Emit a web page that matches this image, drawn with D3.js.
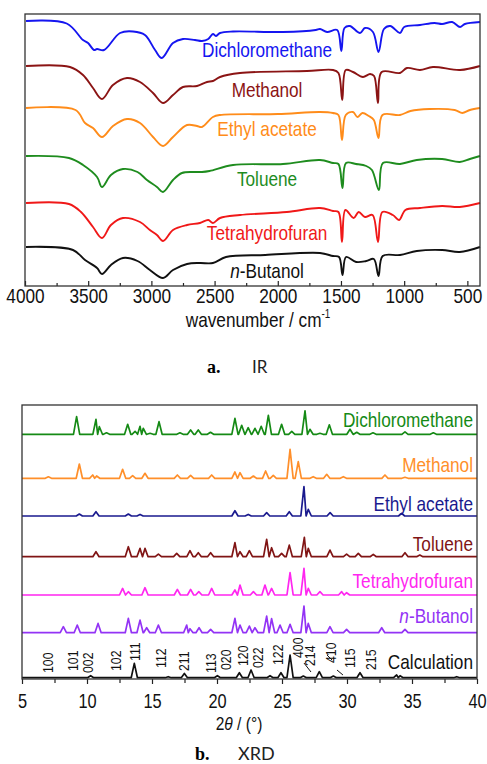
<!DOCTYPE html>
<html>
<head>
<meta charset="utf-8">
<script src="https://cdn.jsdelivr.net/npm/d3@7"></script>
<style>
  body { margin: 0; background: #fff; }
  svg { display: block; }
  text { font-family: "Liberation Sans", Arial, sans-serif; }
</style>
</head>
<body>
<div id="chart"></div>
<script>
// ---- IR data: [wavenumber cm-1, relative transmittance] (0 = flat baseline of each trace)
const irNames = ["Dichloromethane", "Methanol", "Ethyl acetate", "Toluene", "Tetrahydrofuran", "n-Butanol"];
const irColors = ["#1515f0", "#8b1414", "#ff8c1a", "#1e8c1e", "#f01818", "#111111"];
const irOffsets = [265, 220, 178, 130, 83, 39];
const irTicks = [4000, 3500, 3000, 2500, 2000, 1500, 1000, 500];
const irMinor = [3750, 3250, 2750, 2250, 1750, 1250, 750];

const irDCM = [[3992,0],[3670,-2.5],[3541,-19],[3501,-22],[3454,-29],[3430,-28],[3375,-29],[3248,-12],[3145,-10.5],[3051,-14],[2971,-29],[2918,-37],[2829,-22],[2750,-18],[2655,-19],[2600,-20],[2550,-18],[2513,-13],[2490,-15],[2457,-12],[2354,-10.5],[1959,-11],[1700,-9],[1666,-8],[1610,-11],[1530,-9],[1497,-30],[1472,-7],[1430,-5],[1349,-12],[1310,-7],[1247,-11],[1203,-31],[1160,-8],[1110,-5],[1033,-12],[1000,-6],[875,-4],[760,-2],[700,-3],[620,-1],[558,-6],[520,-3],[400,-1]];
const irMeOH = [[3992,0],[3644,-1],[3541,-9],[3462,-22],[3391,-33],[3304,-19],[3193,-12],[3090,-16],[2987,-27],[2908,-37],[2829,-29],[2750,-21],[2639,-20],[2560,-16],[2513,-15],[2457,-11],[2299,-7],[1769,-5],[1563,-4],[1520,-7],[1490,-34],[1462,-4],[1405,-6],[1326,-11],[1270,-8],[1238,-10],[1207,-37],[1178,-6],[1033,-7],[978,-2],[875,-4],[772,-1],[558,-4],[400,0]];
const irEtOAc = [[3992,0],[3600,-2],[3525,-15],[3462,-20],[3391,-29],[3304,-18],[3193,-11],[3090,-15],[2987,-29],[2908,-38],[2829,-29],[2718,-17],[2639,-18],[2600,-19],[2513,-9],[2457,-7],[2000,-6],[1666,-4],[1563,-5],[1520,-7],[1492,-32],[1462,-7],[1405,-4],[1370,-9],[1330,-5],[1280,-8],[1240,-12],[1203,-30],[1172,-7],[1033,-7],[950,-3],[800,-1],[600,-2],[540,-5],[480,-2],[400,0]];
const irTol = [[3992,0],[3652,-2],[3541,-9],[3430,-21],[3391,-31],[3320,-19],[3225,-13],[3110,-16],[3035,-24],[2956,-31],[2908,-36],[2829,-24],[2758,-17],[2670,-16],[2600,-16],[2540,-15],[2354,-9],[1959,-8],[1666,-4],[1563,-7],[1520,-8],[1488,-32],[1460,-7],[1380,-8],[1300,-10],[1255,-14],[1200,-34],[1168,-7],[1033,-8],[900,-4],[700,-3],[560,-6],[480,-3],[400,0]];
const irTHF = [[3992,0],[3652,-1],[3557,-9],[3462,-24],[3391,-35],[3320,-22],[3225,-15],[3090,-19],[3012,-27],[2956,-32],[2908,-38],[2829,-27],[2718,-22],[2616,-20],[2550,-17],[2513,-20],[2457,-15],[2299,-12],[1929,-9],[1666,-5],[1563,-8],[1520,-9],[1492,-39],[1465,-7],[1400,-15],[1360,-9],[1310,-14],[1250,-12],[1207,-39],[1172,-9],[1090,-12],[1040,-17],[990,-7],[875,-5],[700,-3],[560,-4],[400,0]];
const irBuOH = [[3992,0],[3620,-3],[3525,-13],[3430,-21],[3391,-27],[3320,-18],[3225,-11],[3110,-14],[3012,-23],[2908,-31],[2829,-23],[2718,-17],[2616,-16],[2513,-16],[2410,-10],[2100,-8],[1666,-6],[1563,-9],[1515,-10],[1488,-28],[1460,-10],[1380,-15],[1300,-14],[1240,-12],[1203,-29],[1170,-9],[1033,-8],[900,-4],[700,-3],[560,-5],[400,0]];
const irSeries = [irDCM, irMeOH, irEtOAc, irTol, irTHF, irBuOH];

// ---- XRD data: peaks [2theta, intensity above baseline]
const xrdNames = ["Dichloromethane", "Methanol", "Ethyl acetate", "Toluene", "Tetrahydrofuran", "n-Butanol", "Calculation"];
const xrdColors = ["#158a15", "#ff8f2a", "#1a1a8e", "#801414", "#ff26f0", "#9333f5", "#111111"];
const xrdOffsets = [244.7, 200.7, 163, 122.3, 84, 46.3, 1.3];
const xrdTicks = [5, 10, 15, 20, 25, 30, 35, 40];
const xrdMinor = [7.5, 12.5, 17.5, 22.5, 27.5, 32.5, 37.5];

const xrdDCM = [[9.2,17.6],[10.69,15],[10.95,7.6],[11.5,1.5],[13.13,10],[13.7,3],[14.08,8],[14.33,6],[14.85,1],[15.54,12.6],[17.15,1.5],[17.97,4.3],[18.56,4.3],[19.5,2],[21.38,16],[21.9,9],[22.4,6.6],[22.92,6],[23.4,8],[23.95,19],[24.97,10],[25.75,3],[26.77,23.5],[27.15,5],[27.92,1],[28.64,9.5],[30.23,5],[30.75,2],[32.0,1.5],[34.46,2.5],[36.64,1.5]];
const xrdMeOH = [[7.03,1.5],[9.41,14.3],[10.44,3.3],[10.74,2.3],[12.74,9],[13.51,2.6],[14.46,5],[16.95,3.3],[17.97,3],[19.59,3.3],[21.38,6.3],[21.77,5.6],[22.8,2.3],[23.74,7.3],[24.33,3],[25.62,29],[26.25,16.6],[27.4,1.6],[28.44,4],[29.72,1.6],[32.92,3.3],[34.46,1]];
const xrdEtOAc = [[9.41,2],[10.69,4.3],[13.18,2],[14.08,1.6],[21.38,5.3],[22.4,1.6],[23.82,3.3],[25.56,4.3],[26.69,29.3],[27.02,6.6],[28.7,3.3],[34.2,2.6]];
const xrdTol = [[10.69,5],[13.18,10],[14.08,8.3],[14.46,8.3],[15.49,2.6],[16.9,3.3],[17.92,6],[18.56,4],[19.51,4],[21.38,14],[21.77,5],[22.49,6],[23.82,17.3],[24.2,9],[24.97,3.3],[25.56,11.6],[26.72,19.3],[27.02,8.3],[28.69,6.6],[29.97,2.6],[30.87,3.3],[32.02,2.3],[34.46,4],[35.6,1.6]];
const xrdTHF = [[12.74,6.6],[13.18,3.3],[14.46,7.3],[16.95,5.6],[17.97,5.6],[18.6,3.3],[19.59,6.6],[21.38,5],[21.77,10],[22.8,3.3],[23.69,10],[24.2,6.6],[25.62,22.3],[26.69,26.7],[27.02,6.6],[27.92,3.3],[29.59,3.3],[29.97,2.3]];
const xrdBuOH = [[8.18,6],[9.25,7.6],[10.85,9.3],[13.18,14.3],[14.08,12.6],[14.59,5],[15.49,7.6],[17.67,7.6],[17.92,4],[18.62,5],[19.51,3.3],[21.38,14.3],[21.77,7.6],[22.49,6.6],[22.92,5],[23.82,16.6],[24.2,14],[24.85,7.6],[25.62,8.3],[26.69,26.7],[27.02,9.3],[28.69,6],[29.97,3.3],[32.67,5],[34.46,3.3]];
const xrdCalc = [[10.28,2],[13.64,14.3],[16.25,1],[17.49,4.3],[20.03,2],[21.72,5],[22.62,7.7],[24.08,2],[24.92,5],[25.62,22.7],[26.64,1.7],[27.87,6],[28.95,1.7],[31.0,5],[33.82,2.7],[34.08,2],[38.44,1]];
const xrdSeries = [xrdDCM, xrdMeOH, xrdEtOAc, xrdTol, xrdTHF, xrdBuOH, xrdCalc];

// Miller indices of the calculated pattern: [label, 2theta of label, level above baseline]
const hklLabels = [["100",7.38,4.7],["101",9.31,6.7],["002",10.46,4.7],["102",12.62,6.7],["111",14.04,16.7],["112",16.08,9.7],["211",17.88,6.7],["113",19.92,4.7],["020",21.08,7.7],["120",22.38,11.7],["022",23.54,9.7],["122",25.08,12.7],["400",26.62,19.7],["214",27.5,11.7],["410",29.15,14.7],["115",30.58,9.7],["215",32.23,7.7]];
const hklLeaders = [[26.69,14.7,27.23,5.7],[28.46,22.7,28.85,17.7],[29.23,7.7,29.69,2.7]];

// ---------------------------------------------------------------
const W = 487, H = 764;
const svg = d3.select("#chart").append("svg").attr("width", W).attr("height", H);
const NARROW = "scale(0.82,1)";

function addText(g, x, y, str, size, color, anchor) {
  const t = g.append("text")
    .attr("transform", `translate(${x},${y}) ${NARROW}`)
    .attr("text-anchor", anchor)
    .attr("font-size", size)
    .attr("fill", color);
  if (str.startsWith("n-")) {
    t.append("tspan").attr("font-style", "italic").text("n");
    t.append("tspan").text(str.slice(1));
  } else {
    t.text(str);
  }
  return t;
}

// ===== panel a: IR =====
const ir = { left: 25, right: 480, top: 14, bottom: 286 };
const xIR = d3.scaleLinear().domain([4000, 400]).range([ir.left, ir.right]);
const yIR = d3.scaleLinear().domain([0, 272]).range([ir.bottom, ir.top]);
const gIR = svg.append("g");

gIR.append("g")
  .attr("transform", `translate(0,${ir.bottom})`)
  .call(d3.axisBottom(xIR).tickValues(irMinor).tickSize(-3).tickFormat(""))
  .call(g => g.select(".domain").remove());
gIR.append("g")
  .attr("transform", `translate(0,${ir.bottom})`)
  .call(d3.axisBottom(xIR).tickValues(irTicks).tickSize(-5).tickFormat(d3.format("d")))
  .call(g => g.select(".domain").remove())
  .call(g => g.selectAll("text")
    .attr("y", 17).attr("dy", 0)
    .attr("transform", NARROW)
    .attr("font-size", 21).attr("font-family", "Liberation Sans, Arial, sans-serif")
    .attr("fill", "#111"));
gIR.selectAll(".tick line").attr("stroke", "#222").attr("stroke-width", 1.2);

irSeries.forEach((s, i) => {
  const line = d3.line()
    .x(d => xIR(d[0]))
    .y(d => yIR(irOffsets[i] + d[1]))
    .curve(d3.curveCatmullRom.alpha(0.5));
  gIR.append("path").datum(s)
    .attr("d", line).attr("fill", "none")
    .attr("stroke", irColors[i]).attr("stroke-width", 1.9)
    .attr("stroke-linejoin", "round");
});

const irLabelDy = [36, 30.5, 28, 30, 37, 31];
irNames.forEach((n, i) => {
  addText(gIR, xIR(2085), yIR(irOffsets[i]) + irLabelDy[i], n, 21, irColors[i], "middle");
});

gIR.append("rect")
  .attr("x", ir.left).attr("y", ir.top)
  .attr("width", ir.right - ir.left).attr("height", ir.bottom - ir.top)
  .attr("fill", "none").attr("stroke", "#333").attr("stroke-width", 1.3);

const irTitle = addText(gIR, 258, 327, "wavenumber / cm", 21, "#111", "middle");
irTitle.append("tspan").attr("font-size", 12).attr("dy", -9).text("-1");

const capA = svg.append("text").attr("x", 207).attr("y", 373);
capA.append("tspan").attr("font-family", "Liberation Serif, serif").attr("font-weight", "bold").attr("font-size", 18).text("a.");
capA.append("tspan").attr("x", 252).attr("font-family", "Lato, sans-serif").attr("font-size", 17).attr("fill", "#222").text("IR");

// ===== panel b: XRD =====
const xr = { left: 22, right: 477, top: 405, bottom: 679 };
const xXRD = d3.scaleLinear().domain([5, 40]).range([xr.left, xr.right]);
const yXRD = d3.scaleLinear().domain([0, 274]).range([xr.bottom, xr.top]);
const gX = svg.append("g");

gX.append("g")
  .attr("transform", `translate(0,${xr.bottom})`)
  .call(d3.axisBottom(xXRD).tickValues(xrdMinor).tickSize(4).tickFormat(""))
  .call(g => g.select(".domain").remove());
gX.append("g")
  .attr("transform", `translate(0,${xr.bottom})`)
  .call(d3.axisBottom(xXRD).tickValues(xrdTicks).tickSize(5).tickFormat(d3.format("d")))
  .call(g => g.select(".domain").remove())
  .call(g => g.selectAll("text")
    .attr("y", 29).attr("dy", 0)
    .attr("transform", NARROW)
    .attr("font-size", 20).attr("font-family", "Liberation Sans, Arial, sans-serif")
    .attr("fill", "#111"));
gX.selectAll(".tick line").attr("stroke", "#222").attr("stroke-width", 1.2);

// each peak is drawn as a sharp spike on the baseline
const peakHalf = 0.24;
xrdSeries.forEach((peaks, i) => {
  const pts = [[5, 0]];
  peaks.forEach((p, k) => {
    const prev = k > 0 ? peaks[k - 1][0] : -Infinity;
    const next = k < peaks.length - 1 ? peaks[k + 1][0] : Infinity;
    pts.push([Math.max(p[0] - peakHalf, (p[0] + prev) / 2), 0]);
    pts.push(p);
    pts.push([Math.min(p[0] + peakHalf, (p[0] + next) / 2), 0]);
  });
  pts.push([40, 0]);
  const line = d3.line()
    .x(d => xXRD(d[0]))
    .y(d => yXRD(xrdOffsets[i] + d[1]));
  gX.append("path").datum(pts)
    .attr("d", line).attr("fill", "none")
    .attr("stroke", xrdColors[i]).attr("stroke-width", 1.7)
    .attr("stroke-linejoin", "round");
});

const xrdLabelDy = [7.8, 6.3, 5, 5.7, 7, 9.7, 8.7];
xrdNames.forEach((n, i) => {
  addText(gX, 473, yXRD(xrdOffsets[i]) - xrdLabelDy[i], n, 21, xrdColors[i], "end");
});

hklLabels.forEach(h => {
  gX.append("text")
    .attr("transform", `translate(${xXRD(h[1])},${yXRD(xrdOffsets[6] + h[2])}) rotate(-90) ${NARROW}`)
    .attr("font-size", 15).attr("fill", "#111")
    .text(h[0]);
});
hklLeaders.forEach(l => {
  gX.append("line")
    .attr("x1", xXRD(l[0])).attr("y1", yXRD(xrdOffsets[6] + l[1]))
    .attr("x2", xXRD(l[2])).attr("y2", yXRD(xrdOffsets[6] + l[3]))
    .attr("stroke", "#111").attr("stroke-width", 1);
});

gX.append("rect")
  .attr("x", xr.left).attr("y", xr.top)
  .attr("width", xr.right - xr.left).attr("height", xr.bottom - xr.top)
  .attr("fill", "none").attr("stroke", "#333").attr("stroke-width", 1.3);

const xrdTitle = gX.append("text")
  .attr("transform", `translate(239,730) ${NARROW}`)
  .attr("text-anchor", "middle").attr("font-size", 19).attr("fill", "#111");
xrdTitle.append("tspan").text("2");
xrdTitle.append("tspan").attr("font-style", "italic").text("θ");
xrdTitle.append("tspan").text(" / (°)");

const capB = svg.append("text").attr("x", 195).attr("y", 760);
capB.append("tspan").attr("font-family", "Liberation Serif, serif").attr("font-weight", "bold").attr("font-size", 18).text("b.");
capB.append("tspan").attr("x", 238).attr("font-family", "Lato, sans-serif").attr("font-size", 18).attr("fill", "#222").text("XRD");
</script>
</body>
</html>
